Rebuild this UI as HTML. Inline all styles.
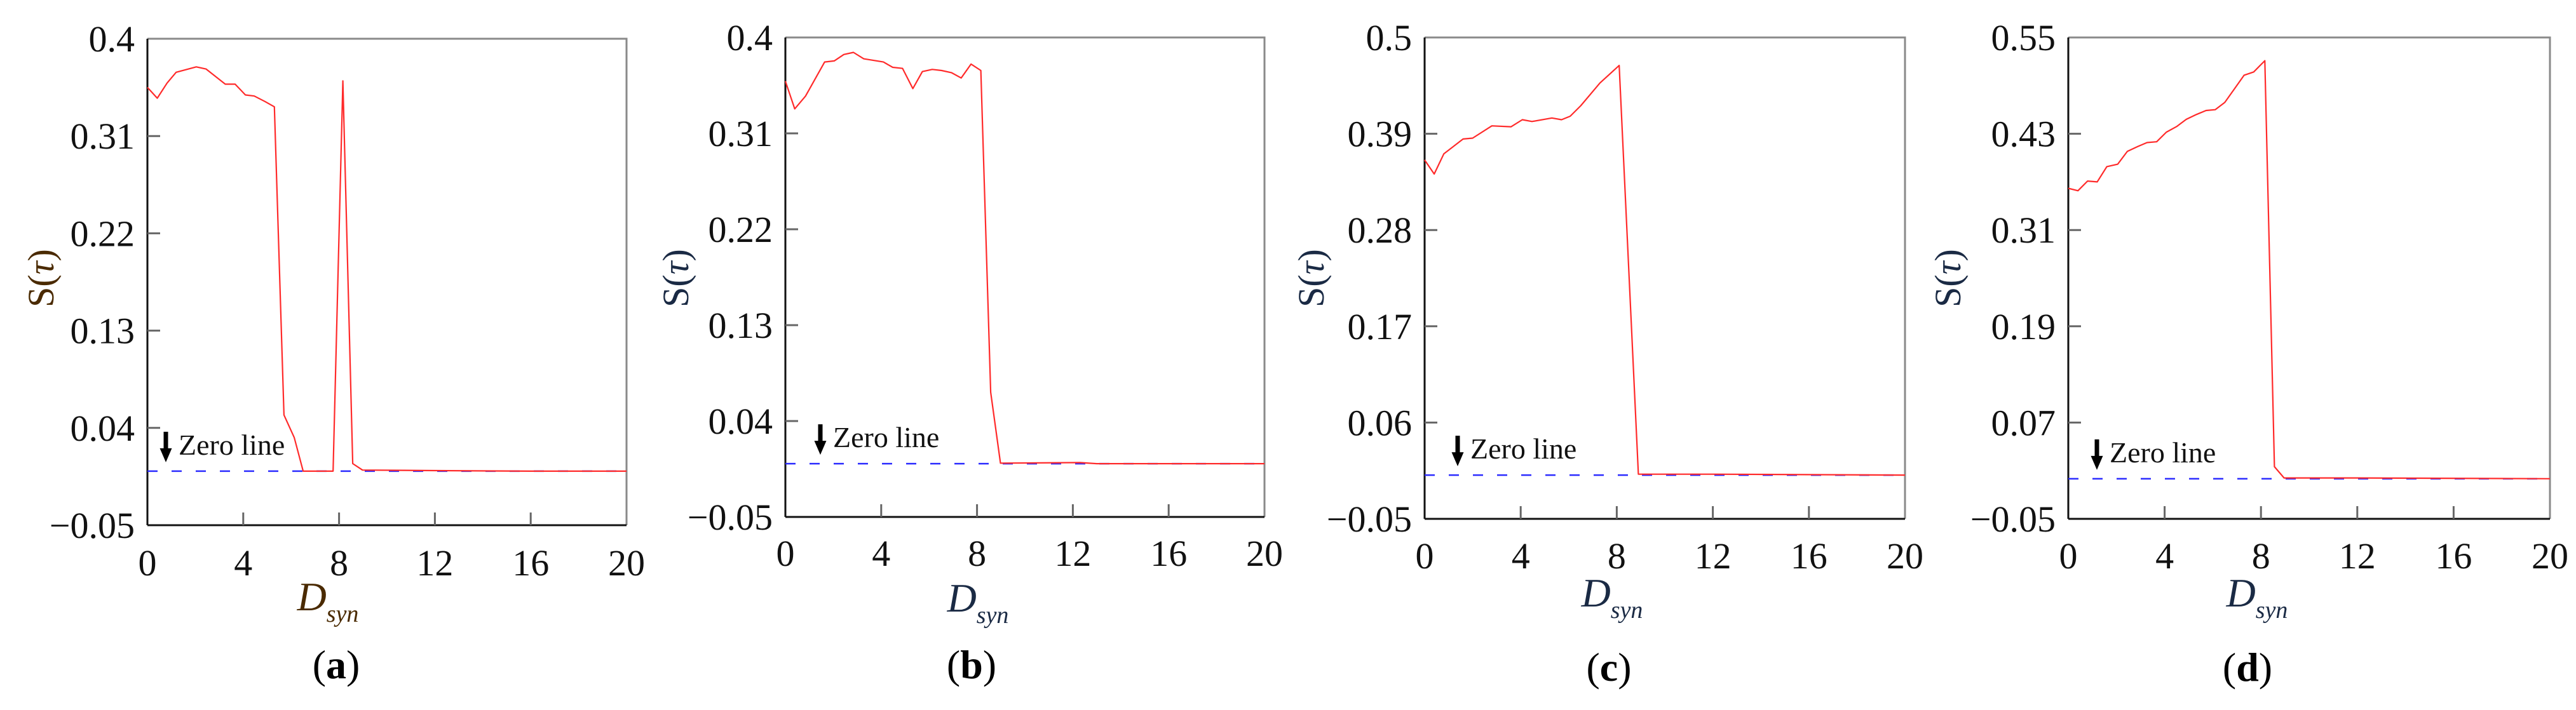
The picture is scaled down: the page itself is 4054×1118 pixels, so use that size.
<!DOCTYPE html>
<html>
<head>
<meta charset="utf-8">
<style>
  html, body { margin: 0; padding: 0; background: #fff; }
  svg { display: block; }
  svg text { font-family: "Liberation Serif", "DejaVu Serif", serif; }
</style>
</head>
<body>
<svg id="fig" xmlns="http://www.w3.org/2000/svg" width="4054" height="1118" viewBox="0 0 4054 1118" font-family="'Liberation Serif', 'DejaVu Serif', serif"></svg>
<script>
// ---- data ----
const xTicks = [0, 4, 8, 12, 16, 20];
const yTicksA = [-0.05, 0.04, 0.13, 0.22, 0.31, 0.4];
const yTicksB = [-0.05, 0.04, 0.13, 0.22, 0.31, 0.4];
const yTicksC = [-0.05, 0.06, 0.17, 0.28, 0.39, 0.5];
const yTicksD = [-0.05, 0.07, 0.19, 0.31, 0.43, 0.55];
const yTickLabelsA = ["\u22120.05", "0.04", "0.13", "0.22", "0.31", "0.4"];
const yTickLabelsB = ["\u22120.05", "0.04", "0.13", "0.22", "0.31", "0.4"];
const yTickLabelsC = ["\u22120.05", "0.06", "0.17", "0.28", "0.39", "0.5"];
const yTickLabelsD = ["\u22120.05", "0.07", "0.19", "0.31", "0.43", "0.55"];

const xA = [0, 0.41, 0.82, 1.2, 2.04, 2.45, 3.25, 3.66, 4.09, 4.46, 4.9, 5.3, 5.7, 6.13, 6.5, 7.75, 8.16, 8.57, 8.98, 12, 16, 20];
const yA = [0.355, 0.345, 0.359, 0.369, 0.374, 0.372, 0.358, 0.358, 0.348, 0.347, 0.342, 0.337, 0.052, 0.031, 0, 0, 0.361, 0.007, 0.001, 0.0005, 0, 0];

const xB = [0, 0.39, 0.84, 1.64, 2.04, 2.44, 2.84, 3.27, 4.09, 4.48, 4.89, 5.32, 5.72, 6.13, 6.52, 6.93, 7.34, 7.75, 8.16, 8.57, 8.98, 12.3, 13, 20];
const yB = [0.359, 0.333, 0.345, 0.377, 0.378, 0.384, 0.386, 0.380, 0.377, 0.372, 0.371, 0.352, 0.368, 0.370, 0.369, 0.367, 0.362, 0.375, 0.369, 0.067, 0.0005, 0.001, 0, 0];

const xC = [0, 0.4, 0.8, 1.6, 2.0, 2.8, 3.6, 4.07, 4.47, 5.3, 5.7, 6.06, 6.5, 7.3, 8.1, 8.9, 12, 20];
const yC = [0.360, 0.344, 0.367, 0.384, 0.385, 0.399, 0.398, 0.406, 0.404, 0.408, 0.406, 0.410, 0.422, 0.448, 0.468, 0.001, 0.001, 0];

const xD = [0, 0.4, 0.8, 1.2, 1.6, 2.05, 2.45, 2.88, 3.27, 3.67, 4.07, 4.5, 4.9, 5.32, 5.72, 6.1, 6.5, 6.9, 7.3, 7.7, 8.16, 8.56, 8.96, 12, 20];
const yD = [0.362, 0.359, 0.371, 0.370, 0.389, 0.392, 0.408, 0.414, 0.419, 0.420, 0.432, 0.439, 0.448, 0.454, 0.459, 0.460, 0.469, 0.486, 0.503, 0.507, 0.521, 0.015, 0.001, 0.001, 0];

const panels = [
  {id:'a', L:232,  R:986,  T:61, B:827, ymin:-0.05, ymax:0.4,  yt:yTicksA, yl:yTickLabelsA, xs:xA, ys:yA, ttx:64,   xlY:906, dX:536,  dY:941, lX:529,  lY:1046, arr:29, tcol:'#4a2a00'},
  {id:'b', L:1236, R:1990, T:59, B:814, ymin:-0.05, ymax:0.4,  yt:yTicksB, yl:yTickLabelsB, xs:xB, ys:yB, ttx:1063, xlY:891, dX:1559, dY:943, lX:1529, lY:1046, arr:55, tcol:'#1a2a44'},
  {id:'c', L:2242, R:2998, T:59, B:817, ymin:-0.05, ymax:0.5,  yt:yTicksC, yl:yTickLabelsC, xs:xC, ys:yC, ttx:2063, xlY:895, dX:2557, dY:935, lX:2532, lY:1050, arr:52, tcol:'#1a2a44'},
  {id:'d', L:3255, R:4013, T:59, B:817, ymin:-0.05, ymax:0.55, yt:yTicksD, yl:yTickLabelsD, xs:xD, ys:yD, ttx:3065, xlY:895, dX:3572, dY:935, lX:3537, lY:1050, arr:45, tcol:'#1a2a44'}
];

const NS = 'http://www.w3.org/2000/svg';
const svg = document.getElementById('fig');
const FONT = "'Liberation Serif', 'DejaVu Serif', serif";
function mk(tag, attrs, parent) {
  const e = document.createElementNS(NS, tag);
  for (const k in attrs) e.setAttribute(k, attrs[k]);
  if (tag === 'text') e.setAttribute('font-family', FONT);
  (parent || svg).appendChild(e);
  return e;
}

panels.forEach(p => {
  const g = mk('g', {});
  
  
  const sx = v => p.L + (v - 0) / 20 * (p.R - p.L);
  const sy = v => p.B - (v - p.ymin) / (p.ymax - p.ymin) * (p.B - p.T);

  const tr = mk('path', {d:`M${p.L},${p.T} H${p.R} V${p.B}`, fill:'none', stroke:'#8a8a8a', 'stroke-width':3}, g);
  
  
  const ya = mk('line', {x1:p.L, y1:p.T, x2:p.L, y2:p.B, stroke:'#111', 'stroke-width':3}, g);
  
  
  const xa = mk('line', {x1:p.L, y1:p.B, x2:p.R, y2:p.B, stroke:'#111', 'stroke-width':3}, g);
  
  

  p.yt.forEach((v, i) => {
    const y = sy(v);
    if (i > 0 && i < p.yt.length - 1) {
      const t = mk('line', {x1:p.L, y1:y, x2:p.L + 20, y2:y, stroke:'#666', 'stroke-width':3}, g);
      
      
    }
    const lb = mk('text', {x:p.L - 20, y:y + 20, 'font-size':58, 'text-anchor':'end', fill:'#111'}, g);
    lb.textContent = p.yl[i];
    
    
  });
  xTicks.forEach((v, i) => {
    const x = sx(v);
    if (i > 0 && i < xTicks.length - 1) {
      const t = mk('line', {x1:x, y1:p.B, x2:x, y2:p.B - 20, stroke:'#666', 'stroke-width':3}, g);
      
      
    }
    const lb = mk('text', {x:x, y:p.xlY, 'font-size':58, 'text-anchor':'middle', fill:'#111'}, g);
    lb.textContent = String(v);
    
    
  });

  const z = mk('line', {x1:p.L, y1:sy(0), x2:p.R, y2:sy(0), stroke:'#2b2bff', 'stroke-width':2.5, 'stroke-dasharray':'16 22'}, g);
  
  

  const d = p.xs.map((x, i) => (i ? 'L' : 'M') + sx(x).toFixed(1) + ',' + sy(p.ys[i]).toFixed(1)).join(' ');
  const s = mk('path', {d:d, fill:'none', stroke:'#ff2a2a', 'stroke-width':2.2, 'stroke-linejoin':'round'}, g);
  
  

  const ax = p.L + p.arr, zy = sy(0);
  const ar = mk('path', {d:`M${ax - 3.5},${zy - 62} h7 v26 h6 l-9.5,22 l-9.5,-22 h6 z`, fill:'#000'}, g);
  
  
  const zt = mk('text', {x:ax + 20, y:zy - 26, 'font-size':46, fill:'#111'}, g);
  zt.textContent = 'Zero line';
  
  

  const yt = mk('text', {x:0, y:0, 'font-size':58, 'text-anchor':'middle', fill:p.tcol, transform:`translate(${p.ttx + 20},438) rotate(-90)`}, g);
  yt.innerHTML = 'S(<tspan font-style="italic">τ</tspan>)';
  
  

  const xt = mk('text', {x:p.dX - 20, y:p.dY + 20, 'font-size':64, 'font-style':'italic', 'text-anchor':'middle', fill:p.tcol}, g);
  xt.innerHTML = 'D<tspan font-size="38" dy="18">syn</tspan>';
  
  

  const pl = mk('text', {x:p.lX, y:p.lY + 22, 'font-size':64, 'text-anchor':'middle', fill:'#000'}, g);
  pl.innerHTML = '(<tspan font-weight="bold">' + p.id + '</tspan>)';
  
  
});
</script>
</body>
</html>
